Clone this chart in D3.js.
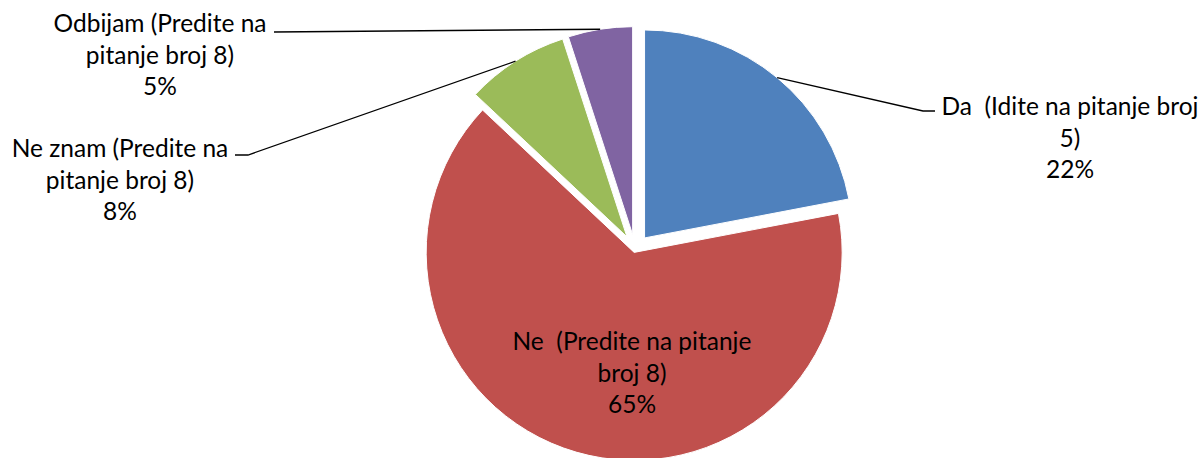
<!DOCTYPE html>
<html>
<head>
<meta charset="utf-8">
<script src="https://cdn.jsdelivr.net/npm/d3@7"></script>
<style>
  html, body { margin: 0; padding: 0; background: #fff; }
  svg { display: block; }
  text { font-family: Lato, "Open Sans", sans-serif; fill: #000; white-space: pre; }
</style>
</head>
<body>
<svg id="chart" width="1204" height="458"></svg>
<script>
// ---- data ----
const categories = [
  "Da  (Idite na pitanje broj 5)",
  "Ne  (Predite na pitanje broj 8)",
  "Ne znam (Predite na pitanje broj 8)",
  "Odbijam (Predite na pitanje broj 8)"
];
const values = [22, 65, 8, 5];
const labelLines = [
  ["Da  (Idite na pitanje broj", "5)"],
  ["Ne  (Predite na pitanje", "broj 8)"],
  ["Ne znam (Predite na", "pitanje broj 8)"],
  ["Odbijam (Predite na", "pitanje broj 8)"]
];

// ---- layout / style ----
const colors = ["#4F81BD", "#C0504D", "#9BBB59", "#8064A2"];
const explode = [15, 3, 15, 15];
const center = [635, 249.5];
const radius = 208;
const fontSize = 24.5;
const lineGap = 31.5;
// label anchor: [centerX, firstBaselineY]; leader: points after arc start
const labelPos = [[1070, 115], [632, 350], [120, 157], [160, 32]];
const leaderPts = [
  [[923, 111], [935, 111]],
  null,
  [[248, 155], [235, 155]],
  [[274, 32]]
];

const svg = d3.select("#chart");
const g = svg.append("g").attr("transform", `translate(${center[0]},${center[1]})`);

const pie = d3.pie().sort(null).value(d => d).startAngle(0).endAngle(2 * Math.PI);
const arcs = pie(values);
const arc = d3.arc().innerRadius(0).outerRadius(radius);
const edgeArc = d3.arc().innerRadius(radius).outerRadius(radius);

function offset(a, i) {
  const mid = (a.startAngle + a.endAngle) / 2;
  return [explode[i] * Math.sin(mid), -explode[i] * Math.cos(mid)];
}

g.selectAll("path.slice")
  .data(arcs)
  .join("path")
  .attr("class", "slice")
  .attr("d", arc)
  .attr("fill", (d, i) => colors[i])
  .attr("stroke", "#fff")
  .attr("stroke-width", 1)
  .attr("transform", (d, i) => { const o = offset(d, i); return `translate(${o[0]},${o[1]})`; });

// leader lines
const line = d3.line();
arcs.forEach((a, i) => {
  if (!leaderPts[i]) return;
  const o = offset(a, i);
  const c = edgeArc.centroid(a);
  const start = [center[0] + o[0] + c[0], center[1] + o[1] + c[1]];
  svg.append("path")
    .attr("d", line([start, ...leaderPts[i]]))
    .attr("fill", "none")
    .attr("stroke", "#000")
    .attr("stroke-width", 1.3);
});

// labels
const total = d3.sum(values);
arcs.forEach((a, i) => {
  const lines = labelLines[i].concat([d3.format(".0%")(values[i] / total)]);
  const t = svg.append("text")
    .attr("text-anchor", "middle")
    .attr("font-size", fontSize)
    .attr("xml:space", "preserve")
    .attr("x", labelPos[i][0])
    .attr("y", labelPos[i][1]);
  lines.forEach((s, k) => {
    t.append("tspan")
      .attr("x", labelPos[i][0])
      .attr("y", labelPos[i][1] + k * lineGap)
      .text(s);
  });
});
</script>
</body>
</html>
